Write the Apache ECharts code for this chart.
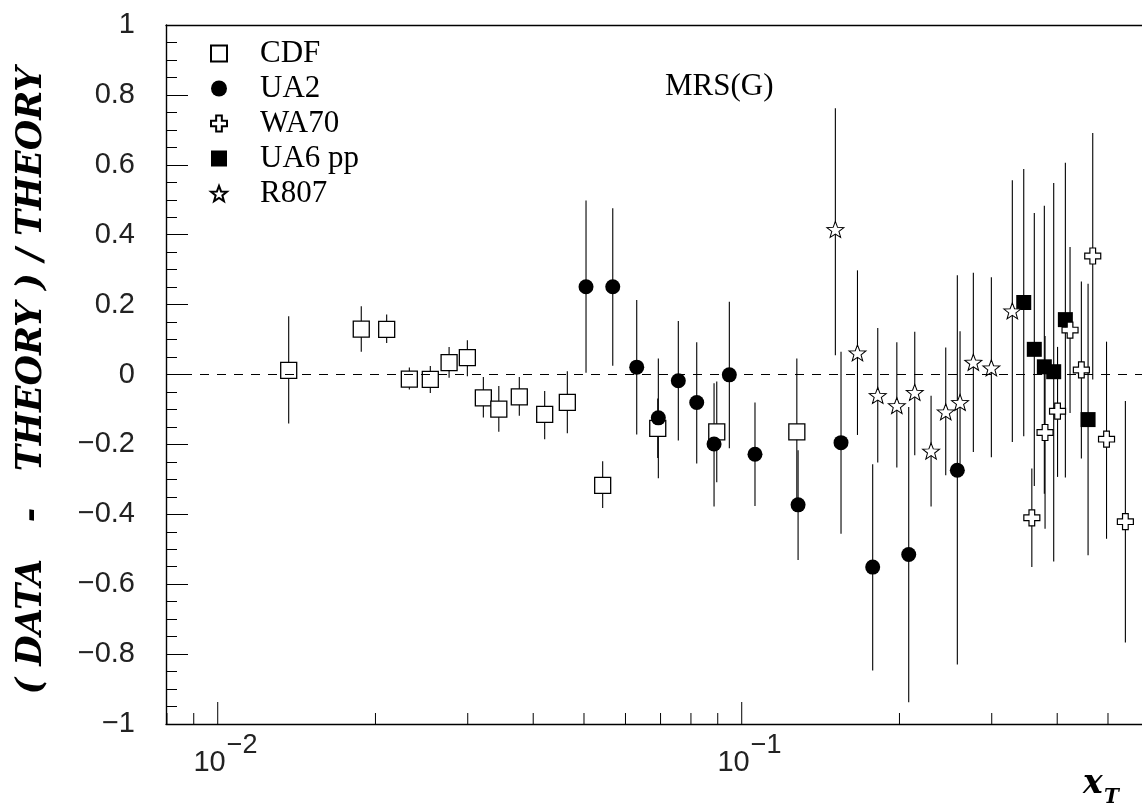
<!DOCTYPE html>
<html>
<head>
<meta charset="utf-8">
<title>MRS(G) comparison</title>
<script src="https://cdn.jsdelivr.net/npm/echarts@6/dist/echarts.min.js"></script>
<style>
  html, body { margin: 0; padding: 0; background: #fff; }
  #chart { width: 1142px; height: 805px; }
</style>
</head>
<body>
<div id="chart"></div>
<script>
// (DATA - THEORY)/THEORY against x_T for five direct-photon experiments, theory MRS(G)

// CDF
const cdfX  = [0.01366, 0.01879, 0.02101, 0.02321, 0.02545, 0.02764, 0.02995, 0.03213, 0.03439, 0.03763, 0.04207, 0.04647, 0.05428, 0.06914, 0.08961, 0.1274];
const cdfY  = [0.012, 0.130, 0.129, -0.013, -0.014, 0.034, 0.048, -0.067, -0.099, -0.064, -0.114, -0.080, -0.317, -0.154, -0.164, -0.164];
const cdfLo = [-0.140, 0.065, 0.090, -0.043, -0.053, -0.009, -0.005, -0.123, -0.164, -0.118, -0.185, -0.168, -0.382, -0.239, -0.308, -0.376];
const cdfHi = [0.167, 0.195, 0.172, 0.020, 0.024, 0.079, 0.098, -0.007, -0.033, -0.007, -0.047, 0.009, -0.248, -0.069, -0.020, 0.046];

// UA2
const ua2X  = [0.05045, 0.05674, 0.06304, 0.06932, 0.07568, 0.08206, 0.08855, 0.0947, 0.1060, 0.1281, 0.1547, 0.1778, 0.2083, 0.2579];
const ua2Y  = [0.251, 0.251, 0.021, -0.124, -0.018, -0.080, -0.199, -0.001, -0.228, -0.373, -0.195, -0.551, -0.515, -0.274];
const ua2Lo = [0.005, 0.025, -0.172, -0.297, -0.189, -0.255, -0.378, -0.211, -0.376, -0.531, -0.456, -0.847, -0.938, -0.830];
const ua2Hi = [0.498, 0.476, 0.213, 0.046, 0.153, 0.092, -0.025, 0.208, -0.080, -0.217, 0.065, -0.257, -0.093, 0.284];

// WA70
const wa70X  = [0.3578, 0.3792, 0.4006, 0.4232, 0.4448, 0.4676, 0.4968, 0.5397];
const wa70Y  = [-0.410, -0.166, -0.105, 0.127, 0.013, 0.339, -0.185, -0.421];
const wa70Lo = [-0.551, -0.441, -0.293, -0.110, -0.240, -0.014, -0.470, -0.767];
const wa70Hi = [-0.269, 0.110, 0.079, 0.365, 0.266, 0.691, 0.094, -0.076];

// UA6 pp
const ua6X  = [0.3453, 0.3617, 0.3780, 0.3939, 0.4146, 0.4581];
const ua6Y  = [0.206, 0.072, 0.022, 0.008, 0.157, -0.129];
const ua6Lo = [-0.177, -0.319, -0.341, -0.535, -0.295, -0.517];
const ua6Hi = [0.588, 0.462, 0.483, 0.548, 0.606, 0.260];

// R807
const r807X  = [0.1509, 0.1663, 0.1818, 0.1977, 0.2139, 0.2298, 0.2451, 0.2610, 0.2767, 0.2995, 0.3284];
const r807Y  = [0.415, 0.062, -0.060, -0.089, -0.051, -0.219, -0.107, -0.080, 0.035, 0.019, 0.182];
const r807Lo = [0.055, -0.173, -0.252, -0.266, -0.231, -0.378, -0.288, -0.255, -0.222, -0.237, -0.193];
const r807Hi = [0.762, 0.298, 0.133, 0.092, 0.122, -0.061, 0.077, 0.124, 0.291, 0.278, 0.556];

// axes
const xRange = [0.007967, 0.5806];
const yRange = [-1, 1];
const xMajorTicks = [0.01, 0.1];
const xMajorExponents = ['\u22122', '\u22121'];
const xMinorTicks = [0.008, 0.009, 0.02, 0.03, 0.04, 0.05, 0.06, 0.07, 0.08, 0.09, 0.2, 0.3, 0.4, 0.5];
const zeroLevel = 0;

const STAR = 'path://M0,-10L2.469,-3.398L9.511,-3.09L3.995,1.298L5.878,8.09L0,4.2L-5.878,8.09L-3.995,1.298L-9.511,-3.09L-2.469,-3.398Z';
const CROSS = 'path://M-3.2,-9L3.2,-9L3.2,-3.2L9,-3.2L9,3.2L3.2,3.2L3.2,9L-3.2,9L-3.2,3.2L-9,3.2L-9,-3.2L-3.2,-3.2Z';

function zip(xs, ys) { return xs.map((x, i) => [x, ys[i]]); }

// vertical error bar from the lower to the upper end of each point
function errorBars(name, xs, lo, hi) {
  return {
    type: 'custom',
    name: name,
    silent: true,
    z: 2,
    data: xs.map((x, i) => [x, lo[i], hi[i]]),
    encode: { x: 0, y: [1, 2] },
    renderItem: function (params, api) {
      const a = api.coord([api.value(0), api.value(1)]);
      const b = api.coord([api.value(0), api.value(2)]);
      return {
        type: 'line',
        shape: { x1: a[0], y1: a[1], x2: b[0], y2: b[1] },
        style: { stroke: '#000', lineWidth: 1.1 }
      };
    }
  };
}

const chart = echarts.init(document.getElementById('chart'), null, { renderer: 'canvas' });

const axisLineStyle = { color: '#000', width: 1.4 };

const option = {
  animation: false,
  backgroundColor: '#fff',
  grid: { left: 166, right: 0, top: 25, bottom: 81, show: false },
  title: {
    text: 'MRS(G)', left: 660, top: 66,
    textStyle: { fontFamily: 'Liberation Serif', fontSize: 31, fontWeight: 'normal', color: '#000' }
  },
  legend: {
    orient: 'vertical', left: 205, top: 33,
    itemWidth: 16, itemHeight: 16, itemGap: 4,
    selectedMode: false,
    textStyle: { fontFamily: 'Liberation Serif', fontSize: 31, color: '#000', padding: [0, 0, 0, 28], lineHeight: 31 },
    data: ['CDF', 'UA2', 'WA70', 'UA6 pp', 'R807']
  },
  xAxis: [
    {
      type: 'log', logBase: 10, min: xRange[0], max: xRange[1], position: 'bottom',
      axisLine: { show: true, onZero: false, lineStyle: axisLineStyle },
      axisTick: { show: false }, axisLabel: { show: false }, splitLine: { show: false }
    },
    {
      // top edge of the frame
      type: 'log', logBase: 10, min: xRange[0], max: xRange[1], position: 'top',
      axisLine: { show: true, onZero: false, lineStyle: axisLineStyle },
      axisTick: { show: false }, axisLabel: { show: false }, splitLine: { show: false }
    }
  ],
  yAxis: {
    type: 'value', min: yRange[0], max: yRange[1], interval: 0.2,
    axisLine: { show: true, onZero: false, lineStyle: axisLineStyle },
    axisTick: { show: true, inside: true, length: 22, lineStyle: { color: '#000', width: 1 } },
    minorTick: { show: true, splitNumber: 4, length: 11, lineStyle: { color: '#000', width: 1 } },
    splitLine: { show: false },
    axisLabel: {
      margin: 31, fontFamily: 'Liberation Sans', fontSize: 29, color: '#222',
      formatter: function (v) {
        if (Math.abs(v) < 1e-9) return '0';
        const s = String(+Math.abs(v).toFixed(1));
        return (v < 0 ? '\u2212' : '') + s;
      }
    },
    name: '( DATA   -   THEORY ) / THEORY ',
    nameLocation: 'middle', nameRotate: 90, nameGap: 117,
    nameTextStyle: { fontFamily: 'DejaVu Serif', fontWeight: 'bold', fontStyle: 'italic', fontSize: 35, color: '#000' }
  },
  graphic: [
    { type: 'text', x: 1083, y: 784, style: { text: 'x', font: 'italic bold 33px "DejaVu Serif"', fill: '#000', verticalAlign: 'middle' } },
    { type: 'text', x: 1104, y: 798, style: { text: 'T', font: 'italic bold 20px "DejaVu Serif"', fill: '#000', verticalAlign: 'middle' } }
  ],
  series: [
    // x-axis ticks and decade labels
    {
      type: 'custom', name: 'x ticks', silent: true, z: 6,
      data: xMajorTicks.map((v, i) => [v, yRange[0], 1, i]).concat(xMinorTicks.map(v => [v, yRange[0], 0, -1])),
      encode: { x: 0, y: 1 },
      renderItem: function (params, api) {
        const p = api.coord([api.value(0), api.value(1)]);
        const major = api.value(2) === 1;
        const len = major ? 22 : 11;
        const children = [{ type: 'line', shape: { x1: p[0], y1: p[1], x2: p[0], y2: p[1] - len }, style: { stroke: '#000', lineWidth: 1 } }];
        if (major) {
          children.push({ type: 'text', x: p[0] + 8, y: p[1] + 39, style: { text: '10', align: 'right', verticalAlign: 'middle', font: '29px "Liberation Sans"', fill: '#222' } });
          children.push({ type: 'text', x: p[0] + 9, y: p[1] + 22, style: { text: xMajorExponents[api.value(3)], align: 'left', verticalAlign: 'middle', font: '27px "Liberation Sans"', fill: '#222' } });
        }
        return { type: 'group', children: children };
      }
    },
    errorBars('CDF errors', cdfX, cdfLo, cdfHi),
    errorBars('UA2 errors', ua2X, ua2Lo, ua2Hi),
    errorBars('WA70 errors', wa70X, wa70Lo, wa70Hi),
    errorBars('UA6 pp errors', ua6X, ua6Lo, ua6Hi),
    errorBars('R807 errors', r807X, r807Lo, r807Hi),
    {
      type: 'scatter', name: 'CDF', z: 3, data: zip(cdfX, cdfY),
      symbol: 'rect', symbolSize: 16,
      itemStyle: { color: '#fff', borderColor: '#000', borderWidth: 1.3, opacity: 1 }
    },
    {
      type: 'scatter', name: 'UA2', z: 3, data: zip(ua2X, ua2Y),
      symbol: 'circle', symbolSize: 15,
      itemStyle: { color: '#000', opacity: 1 }
    },
    {
      type: 'scatter', name: 'WA70', z: 4, data: zip(wa70X, wa70Y),
      symbol: CROSS, symbolSize: 16,
      itemStyle: { color: '#fff', borderColor: '#000', borderWidth: 1.2, opacity: 1 }
    },
    {
      type: 'scatter', name: 'UA6 pp', z: 3, data: zip(ua6X, ua6Y),
      symbol: 'rect', symbolSize: 15,
      itemStyle: { color: '#000', opacity: 1 }
    },
    {
      type: 'scatter', name: 'R807', z: 3, data: zip(r807X, r807Y),
      symbol: STAR, symbolSize: [17, 16],
      itemStyle: { color: '#fff', borderColor: '#000', borderWidth: 1, opacity: 1 }
    },
    // dashed reference line at zero across the full x range
    {
      type: 'custom', name: 'zero', silent: true, z: 5,
      data: [[xRange[0], xRange[1], zeroLevel]],
      encode: { x: [0, 1], y: 2 },
      renderItem: function (params, api) {
        const a = api.coord([api.value(0), api.value(2)]);
        const b = api.coord([api.value(1), api.value(2)]);
        return {
          type: 'line',
          shape: { x1: a[0], y1: a[1], x2: b[0], y2: b[1] },
          style: { stroke: '#000', lineWidth: 1, lineDash: [9, 8] }
        };
      }
    }
  ]
};

chart.setOption(option);
</script>
</body>
</html>
